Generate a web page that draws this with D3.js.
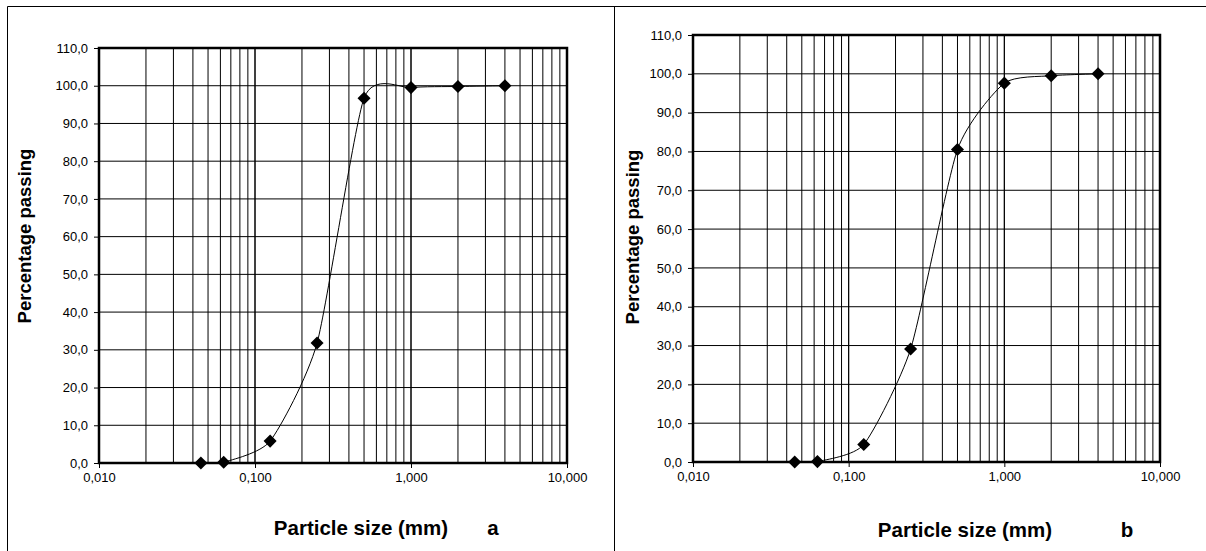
<!DOCTYPE html>
<html>
<head>
<meta charset="utf-8">
<script src="https://cdn.jsdelivr.net/npm/d3@7"></script>
<style>
  body { margin: 0; background: #fff; }
  svg { display: block; }
  text { font-family: "Liberation Sans", Arial, sans-serif; fill: #000; }
  .tick text { font-size: 13px; }
  .axis-title { font-weight: bold; }
  .y-title { font-size: 18.5px; }
  .x-title { font-size: 20.5px; }
</style>
</head>
<body>
<svg id="chart" width="1206" height="551"></svg>
<script>
// sieve sizes (mm) and percentage passing for the two samples
const sizes = [0.045, 0.063, 0.125, 0.25, 0.5, 1, 2, 4]
const passingA = [0.0, 0.2, 5.8, 31.8, 96.7, 99.5, 99.8, 100.0]
const passingB = [0.0, 0.1, 4.5, 29.1, 80.5, 97.6, 99.5, 100.0]
const panelLabels = ["a", "b"]

const xTicks = [0.01, 0.1, 1, 10]
const yTicks = [0, 10, 20, 30, 40, 50, 60, 70, 80, 90, 100, 110]
const xTitle = "Particle size (mm)"
const yTitle = "Percentage passing"

const svg = d3.select("#chart")
const comma = d3.formatLocale({ decimal: ",", thousands: ".", grouping: [3], currency: ["", ""] })
const fmtX = comma.format(".3f")
const fmtY = comma.format(".1f")

// minor grid values 0.01..10
const minor = []
for (let e = -2; e < 1; e++) for (let k = 1; k <= 10; k++) minor.push(k * Math.pow(10, e))

// page frame
svg.append("line").attr("x1", 7.5).attr("x2", 1206).attr("y1", 6.5).attr("y2", 6.5).attr("stroke", "#000")
svg.append("line").attr("x1", 7.5).attr("x2", 7.5).attr("y1", 6.5).attr("y2", 551).attr("stroke", "#000")
svg.append("line").attr("x1", 614.5).attr("x2", 614.5).attr("y1", 6.5).attr("y2", 551).attr("stroke", "#000")

const panels = [
    { values: passingA, label: panelLabels[0], left: 99, right: 567, top: 48, bottom: 463,
      yTitleX: 25, yTitleY: 236, xTitleX: 361, xTitleY: 535, labelX: 493 },
    { values: passingB, label: panelLabels[1], left: 693, right: 1160, top: 35, bottom: 462,
      yTitleX: 633, yTitleY: 237, xTitleX: 965, xTitleY: 537, labelX: 1127 }
]

panels.forEach(p => {
    const x = d3.scaleLog().domain([0.01, 10]).range([p.left, p.right])
    const y = d3.scaleLinear().domain([0, 110]).range([p.bottom, p.top])
    const g = svg.append("g")

    // grid
    g.append("g").selectAll("line").data(minor).enter().append("line")
        .attr("x1", d => x(d)).attr("x2", d => x(d))
        .attr("y1", p.top).attr("y2", p.bottom)
        .attr("stroke", "#000").attr("stroke-width", 1)
    g.append("g").selectAll("line").data(yTicks).enter().append("line")
        .attr("x1", p.left).attr("x2", p.right)
        .attr("y1", d => y(d)).attr("y2", d => y(d))
        .attr("stroke", "#000").attr("stroke-width", 1)

    // axes
    const yAxis = d3.axisLeft(y).tickValues(yTicks).tickFormat(fmtY).tickSize(5).tickPadding(6)
    const xAxis = d3.axisBottom(x).tickValues(xTicks).tickFormat(fmtX).tickSize(5).tickPadding(5)
    g.append("g").attr("transform", `translate(${p.left},0)`).call(yAxis)
        .call(a => a.select(".domain").remove())
        .call(a => a.selectAll(".tick line").attr("stroke", "#000"))
    g.append("g").attr("transform", `translate(0,${p.bottom})`).call(xAxis)
        .call(a => a.select(".domain").remove())
        .call(a => a.selectAll(".tick line").attr("stroke", "#000"))
    g.selectAll("g").attr("font-family", null).attr("font-size", null)

    // plot frame
    g.append("rect").attr("x", p.left).attr("y", p.top)
        .attr("width", p.right - p.left).attr("height", p.bottom - p.top)
        .attr("fill", "none").attr("stroke", "#000").attr("stroke-width", 2.5)

    // smoothed curve + markers
    const pts = sizes.map((s, i) => ({ x: s, y: p.values[i] }))
    const line = d3.line().x(d => x(d.x)).y(d => y(d.y)).curve(d3.curveCardinal.tension(0.4))
    g.append("path").datum(pts).attr("d", line)
        .attr("fill", "none").attr("stroke", "#000").attr("stroke-width", 1)
    g.append("g").selectAll("path").data(pts).enter().append("path")
        .attr("d", d3.symbol(d3.symbolSquare, 85))
        .attr("transform", d => `translate(${x(d.x)},${y(d.y)}) rotate(45)`)
        .attr("fill", "#000")

    // titles
    g.append("text").attr("class", "axis-title y-title")
        .attr("transform", `translate(${p.yTitleX},${p.yTitleY}) rotate(-90)`)
        .attr("text-anchor", "middle").attr("dy", "0.35em")
        .text(yTitle)
    g.append("text").attr("class", "axis-title x-title")
        .attr("x", p.xTitleX).attr("y", p.xTitleY).attr("text-anchor", "middle")
        .text(xTitle)
    g.append("text").attr("class", "axis-title x-title")
        .attr("x", p.labelX).attr("y", p.xTitleY).attr("text-anchor", "middle")
        .text(p.label)
})
</script>
</body>
</html>
